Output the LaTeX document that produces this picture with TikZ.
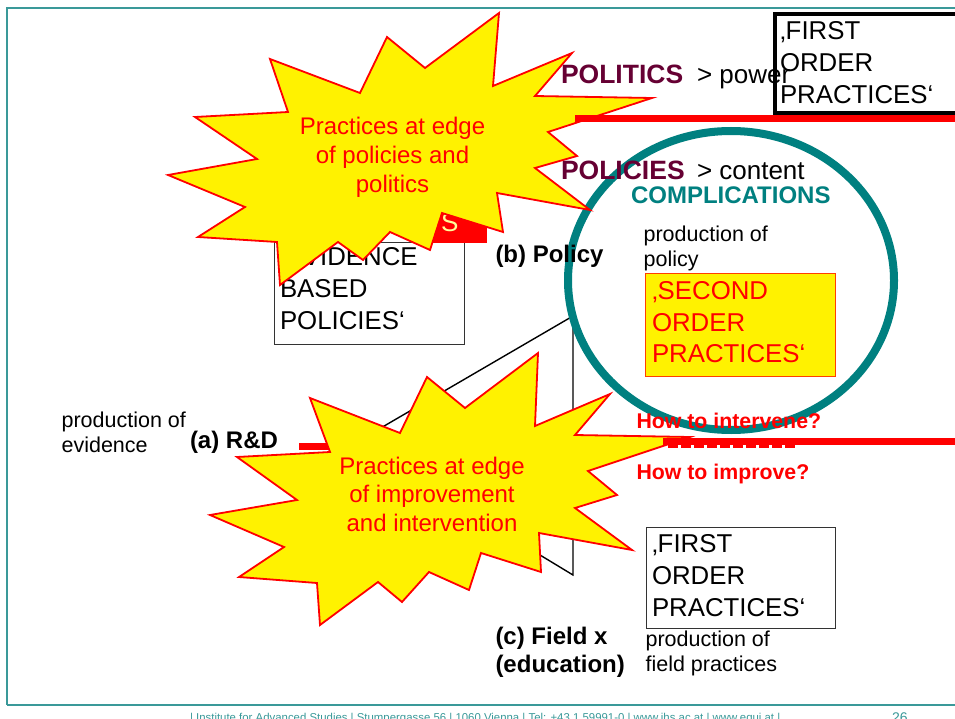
\documentclass[tikz,border=0pt]{standalone}
\usepackage{fontspec}
\setmainfont{Liberation Sans}
\usetikzlibrary{shapes.geometric}
\definecolor{maroonc}{HTML}{660033}
\definecolor{tealc}{HTML}{008080}
\definecolor{framec}{HTML}{3A9999}
\definecolor{lbly}{HTML}{FFFF99}
\definecolor{soborder}{HTML}{FF4000}
\newcommand\fsz[2]{\fontsize{#1}{#2}\selectfont}
\begin{document}
\begin{tikzpicture}[x=1pt,y=-1pt,
  burst/.style={draw=red, fill=yellow, line width=1.8pt, line join=miter},
  redbar/.style={draw=red, line width=6.5pt},
  tri/.style={draw=black, line width=1.4pt},
  framel/.style={draw=framec, line width=1.2pt},
  txt/.style={inner sep=0pt, outer sep=0pt},
  boxn/.style={draw=black!80, line width=1pt, inner sep=0pt, outer sep=0pt, anchor=north west},
  bigtxt/.style={txt, anchor=north west, align=left, font=\fsz{25.8}{32}},
  smalltxt/.style={txt, anchor=north west, align=left, font=\fsz{21.5}{25}},
  boldlbl/.style={txt, anchor=base west, font=\fsz{24}{28}\bfseries},
  head/.style={txt, anchor=base west, font=\fsz{26.5}{30}\bfseries, text=maroonc},
  headsub/.style={txt, anchor=base west, font=\fsz{26}{30}},
  question/.style={txt, anchor=base west, font=\fsz{21.3}{25}\bfseries, text=red},
  bursttxt/.style={txt, anchor=north, align=center, text=red}
]
\useasboundingbox[fill=white] (0,0) rectangle (955,719);

% frame
\coordinate (ftl) at (7,8); \coordinate (ftr) at (960,8);
\coordinate (fbl) at (7,705); \coordinate (fbr) at (960,705);
\draw[framel] (ftr) -- (ftl) -- (fbl);
\draw[framel, line width=1.6pt] (fbl) -- (fbr);

% triangle
\coordinate (tA) at (355,443); \coordinate (tB) at (573,316); \coordinate (tC) at (573,575);
\draw[tri] (tA) -- (tB) -- (tC) -- cycle;

% red mark at (a)
\coordinate (ra1) at (299,446.5); \coordinate (ra2) at (352,446.5);
\draw[draw=red, line width=7pt] (ra1) -- (ra2);

% evidence based policies box
\node[boxn, minimum width=190pt, minimum height=101pt] (ebox) at (274,243) {};
\node[fill=red, inner sep=0pt, outer sep=0pt, anchor=north west, minimum width=67pt, minimum height=30pt] (elabel) at (420,213) {};
\node[txt, anchor=base west, text=lbly, font=\fsz{26}{30}] (elabs) at (441,232) {S};
\node[bigtxt] (etext) at (280,247.5) {‚EVIDENCE\\BASED\\POLICIES‘};

% top right first order box
\node[draw=black, line width=3.5pt, inner sep=0pt, outer sep=0pt, anchor=north west, minimum width=200pt, minimum height=99pt] (fobox) at (775,14) {};
\node[bigtxt] (fotext) at (780,21.5) {‚FIRST\\ORDER\\PRACTICES‘};

% second order box
\node[draw=soborder, fill=yellow, line width=1pt, inner sep=0pt, outer sep=0pt, anchor=north west, minimum width=190pt, minimum height=103pt] (sobox) at (645,273) {};
\node[bigtxt, font=\fsz{25.8}{31.8}, text=red] (sotext) at (652,281.2) {‚SECOND\\ORDER\\PRACTICES‘};

% lower first order box
\node[boxn, minimum width=189pt, minimum height=101pt] (flbox) at (646,527) {};
\node[bigtxt] (fltext) at (652,534.5) {‚FIRST\\ORDER\\PRACTICES‘};

% complications circle
\node[draw=tealc, line width=8pt, ellipse, inner sep=0pt, minimum width=326pt, minimum height=299pt] (circ) at (731,280.5) {};

% bursts
\draw[burst] (499,13) -- (493,86) -- (572,53) -- (535,96) -- (652,98) -- (548,132)
  -- (577,156) -- (535,168) -- (590,210) -- (497,193) -- (503,232) -- (442,213)
  -- (430,250) -- (390,232) -- (363,260) -- (338,242) -- (280,285) -- (277,242)
  -- (198,237) -- (245,207) -- (168,175) -- (257,159) -- (195,117) -- (288,112)
  -- (270,59) -- (360,93) -- (387,37) -- (425,68) -- cycle;
\node[bursttxt, font=\fsz{24}{29}] (s1text) at (392.5,116.8) {Practices at edge\\of policies and\\politics};

\draw[burst] (310,398) -- (400,433) -- (427,377) -- (465,408) -- (538,353) -- (535,426)
  -- (610,394) -- (575,435) -- (690,437) -- (588,471) -- (617,495) -- (575,508)
  -- (632,550) -- (539,533) -- (541,572) -- (481,553) -- (469,590) -- (429,572)
  -- (402,602) -- (378,582) -- (320,625) -- (317,583) -- (239,577) -- (284,547)
  -- (210,515) -- (297,500) -- (237,457) -- (330,452) -- cycle;
\node[bursttxt, font=\fsz{24}{28.5}] (s2text) at (432,456.8) {Practices at edge\\of improvement\\and intervention};

% red bars
\coordinate (rb1a) at (575,118.5); \coordinate (rb1b) at (960,118.5);
\draw[redbar] (rb1a) -- (rb1b);
\coordinate (rd1) at (668,446); \coordinate (rd2) at (798,446);
\draw[draw=red, line width=4pt, dash pattern=on 10pt off 3pt] (rd1) -- (rd2);
\coordinate (rb2a) at (663,441.5); \coordinate (rb2b) at (960,441.5);
\draw[redbar] (rb2a) -- (rb2b);

% labels
\node[head] (politics) at (561,83.3) {POLITICS};
\node[headsub] (power) at (697,83.3) {> power};
\node[head] (policies) at (561,180) {POLICIES};
\node[headsub] (content) at (697,180) {> content};
\node[txt, anchor=base west, font=\fsz{24}{28}\bfseries, text=tealc] (compl) at (631,204) {COMPLICATIONS};
\node[smalltxt] (prodpol) at (643.6,226.4) {production of\\policy};
\node[boldlbl] (bpol) at (495.5,262) {(b) Policy};
\node[boldlbl] (ard) at (190,448) {(a) R\&D};
\node[smalltxt] (prodev) at (61.6,412.4) {production of\\evidence};
\node[question] (howint) at (636.5,428) {How to intervene?};
\node[question] (howimp) at (636.5,479) {How to improve?};
\node[smalltxt] (prodfield) at (645.6,631.4) {production of\\field practices};
\node[txt, anchor=north west, align=left, font=\fsz{24}{28}\bfseries] (cfield) at (495.5,627.5) {(c) Field x\\(education)};

% footer
\node[txt, anchor=base west, text=framec, font=\fsz{11.4}{13}] (footer) at (190,721) {| Institute for Advanced Studies | Stumpergasse 56 | 1060 Vienna | Tel: +43 1 59991-0 | www.ihs.ac.at | www.equi.at |};
\node[txt, anchor=base west, text=framec, font=\fsz{14}{16}] (pagenum) at (892,722) {26};
\end{tikzpicture}
\end{document}
